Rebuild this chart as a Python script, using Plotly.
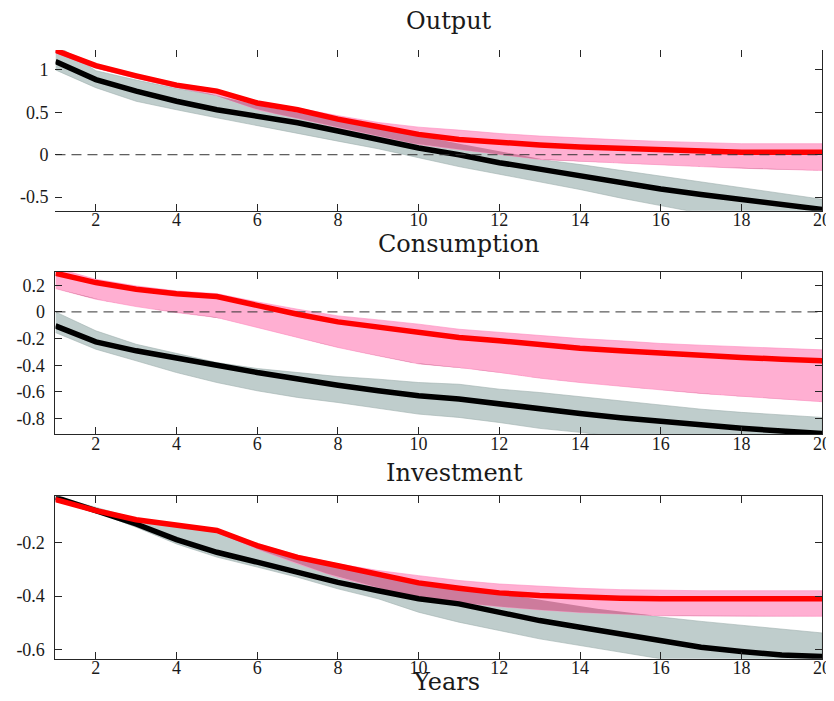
import numpy as np
import plotly.graph_objects as go

years = list(range(1, 21))

# ---------------- Output ----------------
out_red = [1.23, 1.05, 0.93, 0.82, 0.75, 0.61, 0.53, 0.42, 0.33, 0.24,
           0.18, 0.14, 0.114, 0.09, 0.074, 0.05, 0.035, 0.03, 0.03, 0.03]
out_red_hi = [1.26, 1.07, 0.95, 0.84, 0.77, 0.63, 0.55, 0.46, 0.38, 0.325,
              0.29, 0.25, 0.22, 0.195, 0.175, 0.157, 0.14, 0.13, 0.13, 0.13]
out_red_lo = [1.20, 1.02, 0.90, 0.79, 0.70, 0.53, 0.43, 0.32, 0.22, 0.12,
              0.06, 0.004, -0.055, -0.08, -0.10, -0.12, -0.14, -0.16, -0.175, -0.185]
out_blk = [1.10, 0.886, 0.75, 0.63, 0.53, 0.455, 0.376, 0.28, 0.18, 0.08,
           0.0, -0.094, -0.17, -0.25, -0.335, -0.405, -0.47, -0.525, -0.585, -0.645]
out_blk_hi = [1.30, 0.99, 0.88, 0.78, 0.70, 0.58, 0.50, 0.42, 0.32, 0.22,
              0.13, 0.04, -0.055, -0.116, -0.185, -0.25, -0.32, -0.39, -0.457, -0.525]
out_blk_lo = [1.00, 0.79, 0.63, 0.53, 0.435, 0.34, 0.25, 0.16, 0.07, -0.035,
              -0.14, -0.23, -0.32, -0.41, -0.51, -0.60, -0.69, -0.78, -0.88, -0.97]

# ---------------- Consumption ----------------
con_red = [0.29, 0.22, 0.17, 0.137, 0.115, 0.045, -0.018, -0.075, -0.117, -0.155,
           -0.192, -0.217, -0.247, -0.272, -0.292, -0.312, -0.33, -0.342, -0.355, -0.367]
con_red_hi = [0.33, 0.245, 0.195, 0.157, 0.137, 0.075, 0.02, -0.03, -0.06, -0.092,
              -0.13, -0.155, -0.18, -0.2, -0.217, -0.237, -0.25, -0.262, -0.275, -0.285]
con_red_lo = [0.175, 0.095, 0.04, -0.005, -0.042, -0.117, -0.192, -0.267, -0.33, -0.39,
              -0.417, -0.454, -0.497, -0.53, -0.56, -0.585, -0.612, -0.634, -0.654, -0.674]
con_blk = [-0.105, -0.225, -0.292, -0.342, -0.4, -0.455, -0.505, -0.55, -0.592, -0.63,
           -0.654, -0.692, -0.73, -0.762, -0.794, -0.824, -0.849, -0.874, -0.894, -0.912]
con_blk_hi = [0.0, -0.142, -0.243, -0.31, -0.38, -0.425, -0.455, -0.485, -0.505, -0.53,
              -0.543, -0.58, -0.605, -0.635, -0.667, -0.7, -0.73, -0.754, -0.774, -0.792]
con_blk_lo = [-0.155, -0.28, -0.367, -0.455, -0.53, -0.592, -0.642, -0.68, -0.722, -0.767,
              -0.792, -0.83, -0.874, -0.904, -0.94, -0.97, -1.0, -1.03, -1.06, -1.09]

# ---------------- Investment ----------------
inv_red = [-0.041, -0.082, -0.116, -0.136, -0.156, -0.212, -0.256, -0.287, -0.318, -0.351,
           -0.371, -0.388, -0.398, -0.405, -0.408, -0.41, -0.41, -0.41, -0.41, -0.41]
inv_red_hi = [-0.036, -0.078, -0.111, -0.131, -0.150, -0.205, -0.248, -0.28, -0.305, -0.324,
              -0.342, -0.355, -0.364, -0.371, -0.376, -0.379, -0.38, -0.38, -0.38, -0.38]
inv_red_lo = [-0.046, -0.086, -0.121, -0.141, -0.163, -0.225, -0.28, -0.33, -0.37, -0.41,
              -0.424, -0.439, -0.451, -0.461, -0.467, -0.473, -0.475, -0.475, -0.475, -0.475]
inv_blk = [-0.033, -0.082, -0.132, -0.19, -0.237, -0.274, -0.311, -0.349, -0.38, -0.41,
           -0.429, -0.46, -0.491, -0.516, -0.54, -0.565, -0.59, -0.606, -0.619, -0.625]
inv_blk_hi = [-0.028, -0.07, -0.112, -0.138, -0.158, -0.212, -0.256, -0.29, -0.32, -0.345,
              -0.366, -0.39, -0.415, -0.438, -0.459, -0.478, -0.494, -0.509, -0.524, -0.537]
inv_blk_lo = [-0.045, -0.088, -0.144, -0.206, -0.255, -0.292, -0.33, -0.373, -0.41, -0.46,
              -0.497, -0.528, -0.559, -0.584, -0.609, -0.633, -0.66, -0.68, -0.70, -0.72]

titles = ["Output", "Consumption", "Investment"]
x_tickvals = [2, 4, 6, 8, 10, 12, 14, 16, 18, 20]
y_ticks = [
    ([-0.5, 0, 0.5, 1], ["-0.5", "0", "0.5", "1"]),
    ([-0.8, -0.6, -0.4, -0.2, 0, 0.2], ["-0.8", "-0.6", "-0.4", "-0.2", "0", "0.2"]),
    ([-0.6, -0.4, -0.2], ["-0.6", "-0.4", "-0.2"]),
]
y_ranges = [[-0.66, 1.235], [-0.917, 0.30], [-0.633, -0.029]]

PINK = "#FFAFD2"
PINK_EDGE = "#FF8CC0"
GRAY = "#BFCDCC"
GRAY_EDGE = "#9FB0AF"
MAUVE = "#CD7B9C"
AXC = "#262626"

panels = [
    (out_red, out_red_hi, out_red_lo, out_blk, out_blk_hi, out_blk_lo),
    (con_red, con_red_hi, con_red_lo, con_blk, con_blk_hi, con_blk_lo),
    (inv_red, inv_red_hi, inv_red_lo, inv_blk, inv_blk_hi, inv_blk_lo),
]

fig = go.Figure()


def band(x, hi, lo, fill, edge, xa, ya):
    return go.Scatter(x=list(x) + list(x)[::-1], y=list(hi) + list(lo)[::-1],
                      fill="toself", fillcolor=fill, mode="lines",
                      line=dict(color=edge, width=0.6), hoverinfo="skip",
                      showlegend=False, xaxis=xa, yaxis=ya)


def overlap(x, hi1, lo1, hi2, lo2, xa, ya):
    xs = np.linspace(x[0], x[-1], 1141)
    h = np.minimum(np.interp(xs, x, hi1), np.interp(xs, x, hi2))
    l = np.maximum(np.interp(xs, x, lo1), np.interp(xs, x, lo2))
    h = np.where(h > l, h, l)
    return go.Scatter(x=list(xs) + list(xs[::-1]), y=list(h) + list(l[::-1]),
                      fill="toself", fillcolor=MAUVE, mode="lines",
                      line=dict(width=0), hoverinfo="skip", showlegend=False,
                      xaxis=xa, yaxis=ya)


axes_ids = [("x", "y"), ("x2", "y2"), ("x3", "y3")]
for (xa, ya), (r, rh, rl, b, bh, bl) in zip(axes_ids, panels):
    fig.add_trace(band(years, bh, bl, GRAY, GRAY_EDGE, xa, ya))
    fig.add_trace(band(years, rh, rl, PINK, PINK_EDGE, xa, ya))
    fig.add_trace(overlap(years, rh, rl, bh, bl, xa, ya))

# dashed zero lines (Output & Consumption)
for xa, ya in [("x4", "y4"), ("x2", "y2")]:
    fig.add_trace(go.Scatter(x=[1, 20], y=[0, 0], mode="lines",
                             line=dict(color="#333333", width=1, dash="10px,6px"),
                             hoverinfo="skip", showlegend=False, xaxis=xa, yaxis=ya))

for (xa, ya), (r, rh, rl, b, bh, bl) in zip(axes_ids, panels):
    fig.add_trace(go.Scatter(x=years, y=b, mode="lines", line=dict(color="black", width=5.5),
                             hoverinfo="skip", showlegend=False, xaxis=xa, yaxis=ya))
    fig.add_trace(go.Scatter(x=years, y=r, mode="lines", line=dict(color="#FF0000", width=5.5),
                             hoverinfo="skip", showlegend=False, xaxis=xa, yaxis=ya))

W, H = 834, 701
xdom = [48 / W, 823 / W]
ydoms = [[1 - 203 / H, 1 - 42 / H], [1 - 426.7 / H, 1 - 264.3 / H], [1 - 651.7 / H, 1 - 489 / H]]

tickfont = dict(family="Liberation Serif", size=18, color="#1a1a1a")

common_x = dict(range=[1, 20], tickvals=x_tickvals, ticks="inside", ticklen=7,
                tickcolor=AXC, linecolor=AXC, linewidth=1, showgrid=False,
                zeroline=False, tickfont=tickfont, ticklabelstandoff=-7)
common_y = dict(ticks="inside", ticklen=7, tickcolor=AXC, linecolor=AXC, linewidth=1,
                showgrid=False, zeroline=False, tickfont=tickfont, ticklabelstandoff=6)

layout = dict(width=W, height=H, margin=dict(l=0, r=0, t=0, b=0),
              paper_bgcolor="white", plot_bgcolor="white", showlegend=False)

# panel 1: bottom line + right line only
layout["xaxis"] = dict(common_x, domain=xdom, anchor="y", showline=True, mirror=False)
layout["yaxis"] = dict(common_y, domain=ydoms[0], anchor="x", range=y_ranges[0],
                       tickvals=y_ticks[0][0], ticktext=y_ticks[0][1], showline=False, mirror=False)
layout["xaxis4"] = dict(common_x, overlaying="x", anchor="y4", side="top", showline=False,
                        showticklabels=False)
layout["yaxis4"] = dict(common_y, overlaying="y", anchor="x", side="right", range=y_ranges[0],
                        tickvals=y_ticks[0][0], showline=True, showticklabels=False)
for i in (2, 3):
    layout[f"xaxis{i}"] = dict(common_x, domain=xdom, anchor=f"y{i}", showline=True, mirror="ticks")
    layout[f"yaxis{i}"] = dict(common_y, domain=ydoms[i - 1], anchor=f"x{i}", range=y_ranges[i - 1],
                               tickvals=y_ticks[i - 1][0], ticktext=y_ticks[i - 1][1],
                               showline=True, mirror="ticks")

title_font = dict(family="DejaVu Serif", size=24, color="#1a1a1a")
title_pos = [(446, 13), (455.8, 236), (451.7, 465.5)]
annotations = []
for t, (px, py) in zip(titles, title_pos):
    annotations.append(dict(text=t, x=px / W, y=1 - py / H, xref="paper", yref="paper",
                            xanchor="center", yanchor="middle", showarrow=False, font=title_font))
annotations.append(dict(text="Years", x=443 / W, y=1 - 675 / H, xref="paper", yref="paper",
                        xanchor="center", yanchor="middle", showarrow=False, font=title_font))
layout["annotations"] = annotations

# white band that hides the lower part of the bottom tick labels (as in the reference)
layout["shapes"] = [dict(type="rect", xref="paper", yref="paper", x0=0, x1=1, y0=0,
                         y1=1 - 671 / H, fillcolor="white", line=dict(width=0), layer="above")]

fig.update_layout(**layout)
fig.write_html("out.html")
